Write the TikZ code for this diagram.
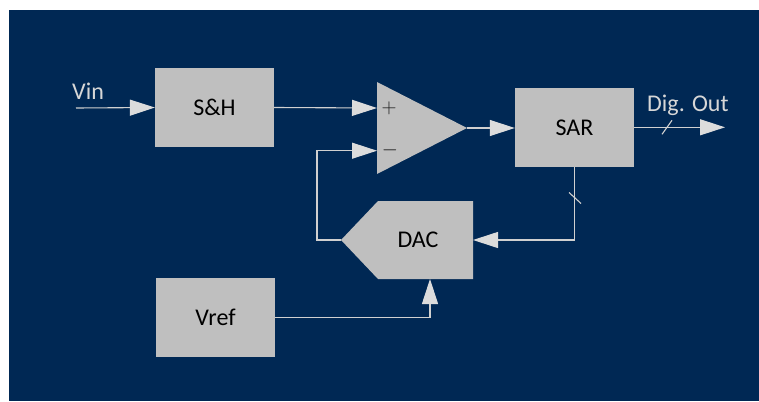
\documentclass[tikz,border=0pt]{standalone}
\usepackage{fontspec}
\setmainfont{Carlito}
\usetikzlibrary{arrows.meta}
\definecolor{navy}{RGB}{0,40,84}
\definecolor{boxgray}{RGB}{191,191,191}
\definecolor{wiregray}{RGB}{208,208,208}
\definecolor{tipgray}{RGB}{220,220,220}
\definecolor{labgray}{RGB}{215,215,215}
\tikzset{
  blk/.style={fill=boxgray, minimum width=119pt, minimum height=79pt, inner sep=0pt, text=black, font=\fontsize{24}{28}\selectfont},
  wire/.style={draw=wiregray, line width=1.1pt},
  arr/.style={wire, -{Triangle[length=25pt, width=16pt, color=tipgray]}},
  lab/.style={text=labgray, inner sep=0pt, anchor=base west, font=\fontsize{24}{28}\selectfont},
  sgn/.style={text=black!90, font=\fontsize{21}{21}\selectfont}
}
\begin{document}
\begin{tikzpicture}[x=1pt, y=-1pt]
\useasboundingbox (0,0) rectangle (759,401);
\fill [navy] (9,10) rectangle (759,401);

% blocks
\node [blk] (sh) at (214.5,107.5) {S\&H};
\node [blk] (sar) at (574.5,127.3) {SAR};
\node [blk] (vref) at (215.5,317.3) {Vref};

% comparator
\coordinate (ot) at (377,82);
\coordinate (ob) at (377,174);
\coordinate (oo) at (467,128);
\coordinate (pin) at (377,108);
\coordinate (nin) at (377,150.7);
\fill [boxgray] (ot) -- (oo) -- (ob) -- cycle;
\node [sgn] (plus) at (389,108) {$+$};
\node [sgn] (minus) at (390,150.7) {$-$};

% DAC
\coordinate (dacW) at (341,240);
\coordinate (dacE) at (473,240);
\coordinate (dacS) at (430,279);
\fill [boxgray] (dacW) -- (378,201) -- (473,201) -- (473,279) -- (378,279) -- cycle;
\node [text=black, font=\fontsize{24}{28}\selectfont] (dac) at (418,240) {DAC};

% signals
\coordinate (vin) at (76,108);
\coordinate (dout) at (725,127.3);
\node [lab] (vinlab) at (72,99.5) {Vin};
\node [lab] (doutlab) at (647,111) {Dig. Out};

\draw [arr] (vin) -- (sh.west);
\draw [arr] (sh.east) -- (pin);
\draw [arr] (dacW) -- (317,240) |- (nin);
\draw [arr] (oo) -- (oo -| sar.west);
\draw [arr] (sar.east) -- (dout);
\draw [arr] (sar.south) |- (dacE);
\draw [arr] (vref.east) -| (dacS);

% bus marks
\draw [wire] (667,127.3) ++(-5,7) -- ++(10,-14);
\draw [wire] (575,198) ++(-6,-5.5) -- ++(12,11);

\end{tikzpicture}
\end{document}
